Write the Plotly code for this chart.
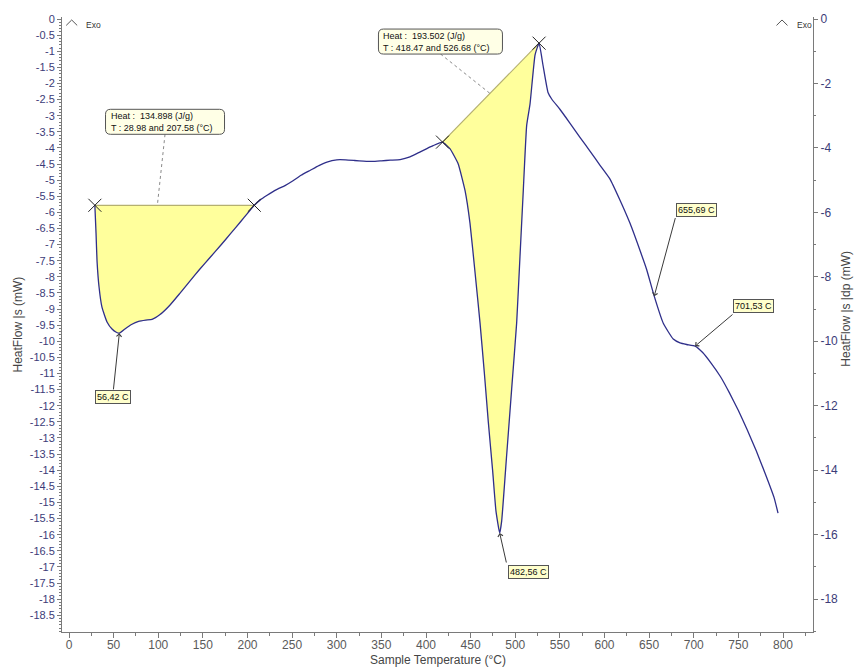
import plotly.graph_objects as go

# DSC heat-flow trace: sample temperature (°C) vs heat flow (mW)
temperature = [
    28.98, 30.3, 31.4, 33.6, 37.0, 42.6, 48.2, 53.0, 56.42, 62.7, 70, 78, 86, 93,
    102, 113, 124, 135, 146, 158, 170, 181, 192, 200, 207.58, 214, 222, 232, 242,
    251, 260, 270, 280, 289, 300, 310, 320, 330, 340, 350, 360, 371, 382, 393, 401,
    408, 418.47, 427, 436, 443.7, 449.3, 455, 460.5, 465.3, 469.8, 474.7, 478.4,
    482.56, 484.8, 490.4, 496, 501.6, 505.3, 509, 512.8, 516.5, 522.2, 526.68, 531,
    536.7, 541, 550, 561, 572.5, 583.7, 595, 606, 617, 628.6, 640, 647.3, 655.69,
    666, 677, 684.6, 692, 701.53, 710, 720, 730, 740, 750, 760, 770, 780, 790, 794.4,
]
heat_flow = [
    -5.78, -6.65, -7.5, -8.3, -8.95, -9.4, -9.62, -9.72, -9.75, -9.62, -9.48, -9.38,
    -9.34, -9.32, -9.17, -8.88, -8.52, -8.15, -7.78, -7.4, -7.02, -6.66, -6.3, -6.03,
    -5.78, -5.62, -5.47, -5.3, -5.17, -5.02, -4.85, -4.7, -4.55, -4.44, -4.37, -4.37,
    -4.39, -4.41, -4.42, -4.40, -4.38, -4.36, -4.28, -4.13, -4.02, -3.93, -3.82,
    -4.03, -4.49, -5.32, -6.34, -7.88, -9.42, -10.96, -12.5, -14.03, -15.27, -15.95,
    -15.57, -13.52, -11.47, -9.42, -7.37, -5.32, -3.3, -2.65, -1.11, -0.75, -1.42,
    -2.28, -2.49, -2.8, -3.22, -3.67, -4.1, -4.54, -4.96, -5.6, -6.34, -7.2, -7.78,
    -8.6, -9.45, -9.93, -10.05, -10.1, -10.15, -10.35, -10.7, -11.1, -11.6, -12.15,
    -12.75, -13.4, -14.1, -14.85, -15.33,
]

# integration windows (°C) and their reported enthalpies
peak_limits = [(28.98, 207.58), (418.47, 526.68)]
peak_heat = [134.898, 193.502]

# marked temperatures of events on the curve
event_temps = [56.42, 482.56, 655.69, 701.53]
event_labels = ["56,42 C", "482,56 C", "655,69 C", "701,53 C"]

left_ticks = [-0.5 * i for i in range(38)]
right_ticks = [-2 * i for i in range(10)]
x_ticks = list(range(0, 801, 50))

CURVE = "#2f2f8a"
FILL = "#ffff9c"
EDGE = "#b5b070"
AXIS = "#7a7a7a"
YLAB = "#3c3c78"
XLAB = "#5a5a5a"
FONT = "Liberation Sans, Arial, sans-serif"
NARROW = "Liberation Sans Narrow, Arial Narrow, Liberation Sans, sans-serif"


def lookup(t):
    return heat_flow[temperature.index(t)]


def fmt(v):
    s = ("%g" % v)
    return s if v != 0 else "0"


fig = go.Figure()

# shaded peak areas between curve and linear baseline
for lo, hi in peak_limits:
    i0, i1 = temperature.index(lo), temperature.index(hi)
    fig.add_trace(go.Scatter(
        x=temperature[i0:i1 + 1], y=heat_flow[i0:i1 + 1],
        fill="toself", fillcolor=FILL, mode="lines",
        line=dict(width=0), hoverinfo="skip", showlegend=False))
    fig.add_trace(go.Scatter(
        x=[lo, hi], y=[lookup(lo), lookup(hi)], mode="lines",
        line=dict(color=EDGE, width=1.2), hoverinfo="skip", showlegend=False))

# heat-flow curve
fig.add_trace(go.Scatter(
    x=temperature, y=heat_flow, mode="lines",
    line=dict(color=CURVE, width=1.3, shape="spline", smoothing=0.4), showlegend=False))

# integration limit crosses
lim_x = [t for pair in peak_limits for t in pair]
fig.add_trace(go.Scatter(
    x=lim_x, y=[lookup(t) for t in lim_x], mode="markers",
    marker=dict(symbol="x-thin", size=13, line=dict(width=1, color="#222222")),
    showlegend=False, hoverinfo="skip"))

# placeholder on the secondary axis so it is rendered
fig.add_trace(go.Scatter(x=[temperature[0]], y=[heat_flow[0]], yaxis="y2",
                         mode="markers", marker=dict(opacity=0),
                         showlegend=False, hoverinfo="skip"))

# ---- peak result callouts (rounded boxes with dotted leaders) ----
callouts = [
    # anchor (°C, mW), box size px, leader target temperature
    dict(cx=107.6, cy=-3.19, w=119, h=25, target=99.0),
    dict(cx=416.2, cy=-0.70, w=124, h=25, target=471.7),
]


def rounded_path(w, h, r):
    x0, x1, y0, y1 = -w / 2, w / 2, -h / 2, h / 2
    return (f"M{x0 + r},{y0} L{x1 - r},{y0} Q{x1},{y0} {x1},{y0 + r} "
            f"L{x1},{y1 - r} Q{x1},{y1} {x1 - r},{y1} L{x0 + r},{y1} "
            f"Q{x0},{y1} {x0},{y1 - r} L{x0},{y0 + r} Q{x0},{y0} {x0 + r},{y0} Z")


for c, (lo, hi), q in zip(callouts, peak_limits, peak_heat):
    # leader to baseline
    ylo, yhi = lookup(lo), lookup(hi)
    yt = ylo + (yhi - ylo) * (c["target"] - lo) / (hi - lo)
    box_bottom = c["cy"] - (c["h"] / 2) / 32.49
    fig.add_shape(type="line", x0=c["cx"], y0=box_bottom, x1=c["target"], y1=yt,
                  xref="x", yref="y", line=dict(color="#8a8a8a", width=1, dash="dot"))
    fig.add_shape(type="path", xref="x", yref="y", xsizemode="pixel", ysizemode="pixel",
                  xanchor=c["cx"], yanchor=c["cy"], path=rounded_path(c["w"], c["h"], 5),
                  fillcolor="#ffffe6", line=dict(color="#555555", width=1))
    fig.add_annotation(
        x=c["cx"], y=c["cy"], xref="x", yref="y", xanchor="left", yanchor="middle",
        xshift=-c["w"] / 2 + 3, showarrow=False, align="left",
        text=f"Heat :  {q:.3f} (J/g)<br>T : {lo:.2f} and {hi:.2f} (°C)",
        font=dict(family=FONT, size=9, color="#111111"))

# ---- event labels with arrows ----
label_pos = [  # box centre (°C, mW) and arrow tail (°C, mW)
    ((49.3, -11.74), (49.6, -11.54)),
    ((514.3, -17.15), (490.4, -16.91)),
    ((702.7, -5.94), (679.8, -6.13)),
    ((766.4, -8.90), (745.1, -9.13)),
]
for t, lab, (box, tail) in zip(event_temps, event_labels, label_pos):
    fig.add_annotation(x=t, y=lookup(t), ax=tail[0], ay=tail[1], axref="x", ayref="y",
                       xref="x", yref="y", text="", showarrow=True, arrowhead=4,
                       arrowsize=1, arrowwidth=1, arrowcolor="#3a3a3a")
    fig.add_annotation(x=box[0], y=box[1], xref="x", yref="y", text=lab, showarrow=False,
                       bgcolor="#ffffcc", bordercolor="#555555", borderwidth=1, borderpad=1,
                       font=dict(family=FONT, size=9, color="#111111"))

# ---- Exo indicators ----
W, H = 857, 668
L, R, T, B = 62, 813, 12, 632


def px(x, y):
    return (x - L) / (R - L), (B - y) / (B - T)


def paper_text(x, y, text, size, angle=0, color="#454545"):
    p = px(x, y)
    fig.add_annotation(x=p[0], y=p[1], xref="paper", yref="paper", text=text,
                       xanchor="center", yanchor="middle", textangle=angle,
                       showarrow=False, font=dict(family=FONT, size=size, color=color))


for cx, tx in [(71.7, 93.3), (782.0, 804.5)]:
    a, b, c = px(cx - 5.5, 20.5), px(cx, 15), px(cx + 5.5, 20.5)
    fig.add_shape(type="path", xref="paper", yref="paper",
                  path=f"M{a[0]},{a[1]} L{b[0]},{b[1]} L{c[0]},{c[1]}",
                  line=dict(color="#555555", width=1))
    paper_text(tx, 20, "Exo", 8.5, color="#333333")

# axis titles
paper_text(17, 322, "HeatFlow |s (mW)", 12, angle=-90)
paper_text(846, 306, "HeatFlow |s |dp (mW)", 12, angle=-90)
paper_text(438, 660, "Sample Temperature (°C)", 12)

y_range = [-19.02, 0.062]
fig.update_layout(
    width=W, height=H, autosize=False,
    margin=dict(l=L, r=W - R, t=T, b=H - B, pad=0),
    paper_bgcolor="white", plot_bgcolor="white",
    xaxis=dict(range=[-7.84, 833.6], showgrid=False, zeroline=False,
               showline=True, linecolor=AXIS, linewidth=1,
               tickmode="array", tickvals=x_ticks, ticktext=[str(v) for v in x_ticks],
               ticks="outside", ticklen=5, tickcolor=AXIS, ticklabelstandoff=-3,
               tickfont=dict(family=NARROW, size=12, color=XLAB),
               minor=dict(tickmode="linear", tick0=0, dtick=25, ticks="outside",
                          ticklen=3, tickcolor=AXIS)),
    yaxis=dict(range=y_range, showgrid=False, zeroline=False,
               showline=True, linecolor=AXIS, linewidth=1,
               tickmode="array", tickvals=left_ticks, ticktext=[fmt(v) for v in left_ticks],
               ticks="outside", ticklen=4, tickcolor=AXIS,
               tickfont=dict(family=FONT, size=11, color=YLAB),
               minor=dict(tickmode="linear", tick0=0, dtick=0.1, ticks="outside",
                          ticklen=2, tickcolor=AXIS)),
    yaxis2=dict(range=y_range, overlaying="y", side="right", anchor="x",
                showgrid=False, zeroline=False, showline=True, linecolor=AXIS, linewidth=1,
                tickmode="array", tickvals=right_ticks, ticktext=[fmt(v) for v in right_ticks],
                ticks="outside", ticklen=4, tickcolor=AXIS,
                tickfont=dict(family=FONT, size=12, color=YLAB),
                minor=dict(tickmode="linear", tick0=0, dtick=1, ticks="outside",
                           ticklen=2, tickcolor=AXIS)),
)

fig.write_html("out.html")
